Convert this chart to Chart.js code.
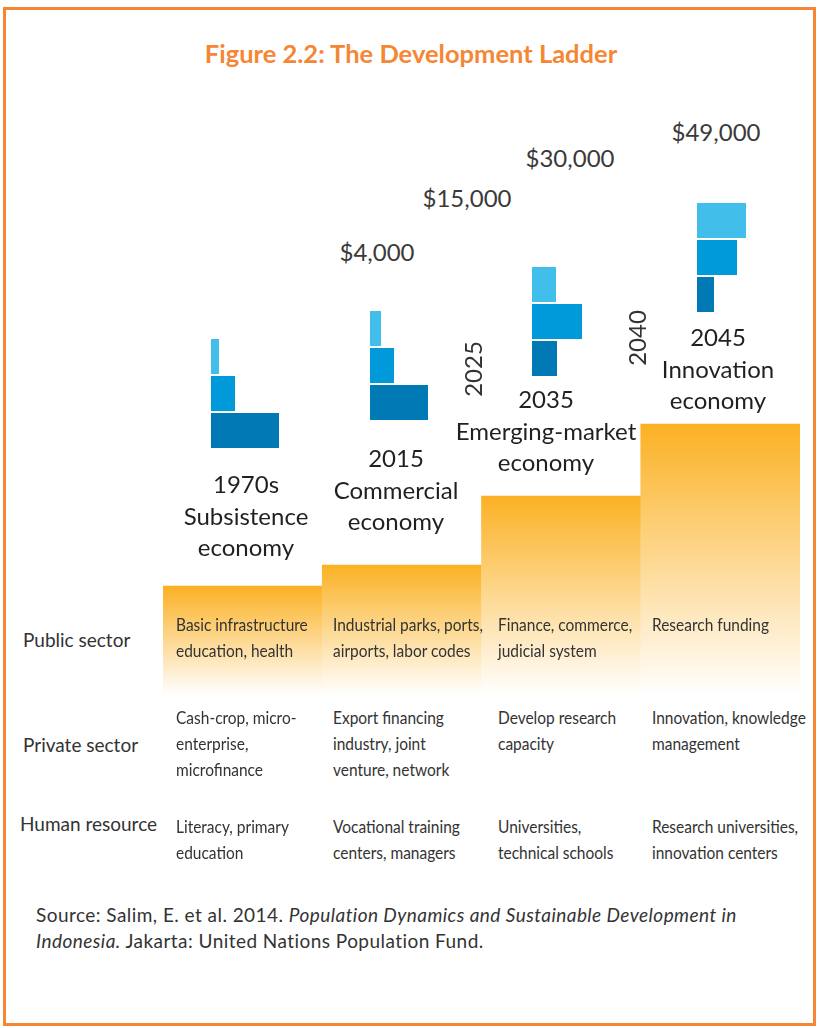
<!DOCTYPE html>
<html lang="en">
<head>
<meta charset="UTF-8">
<title>The Development Ladder</title>
<script src="https://cdn.jsdelivr.net/npm/chart.js"></script>
<style>
    body { margin: 0; background: #fff; font-family: Lato, "Open Sans", sans-serif; color: #231f20; }
    #page { position: relative; width: 819px; height: 1028px; overflow: hidden; }
    #frame { position: absolute; left: 3px; top: 7px; width: 807px; height: 1013px; border: 3px solid #f58634; }
    #title { position: absolute; left: 0; width: 822px; top: 37px; text-align: center; font-weight: bold;
             font-size: 25.5px; line-height: 32px; color: #f58634; }
    canvas { position: absolute; }
    .lbl { position: absolute; white-space: nowrap; }
    .stage { font-size: 24px; line-height: 31.5px; text-align: center; transform: translateX(-50%); }
    .income { font-size: 24px; line-height: 32px; color: #3a3a3a; transform: translateX(-50%); }
    .midyear { font-size: 24px; line-height: 24px; color: #333; transform: translate(-50%, -50%) rotate(-90deg); }
    .row { font-size: 19px; line-height: 26px; color: #333; }
    .cell { font-size: 18px; line-height: 26px; color: #333; transform: scaleX(0.86); transform-origin: left top; }
    #source { position: absolute; left: 36px; top: 902px; font-size: 19px; letter-spacing: 0.45px; line-height: 26px; color: #333; }
</style>
</head>
<body>
<div id="page">
    <div id="frame"></div>
    <div id="title">Figure 2.2: The Development Ladder</div>
    <canvas id="ladder" width="637" height="300" style="left:163px; top:400px;"></canvas>
    <div id="source">Source: Salim, E. et al. 2014. <i>Population Dynamics and Sustainable Development in<br>Indonesia.</i> Jakarta: United Nations Population Fund.</div>
</div>

<script>
    // data
    const stages = ['1970s', '2015', '2035', '2045'];
    const stageNames = [['Subsistence', 'economy'], ['Commercial', 'economy'], ['Emerging-market', 'economy'], ['Innovation', 'economy']];
    const incomes = ['$4,000', '$15,000', '$30,000', '$49,000'];
    const midYears = ['2025', '2040'];
    const stepHeights = [114, 135, 204, 276];
    const barTop = [8, 11, 24, 49];
    const barMiddle = [24, 24, 50, 40];
    const barBottom = [68, 58, 25, 17];
    const rowNames = ['Public sector', 'Private sector', 'Human resource'];
    const publicSector = [['Basic infrastructure', 'education, health'], ['Industrial parks, ports,', 'airports, labor codes'],
                          ['Finance, commerce,', 'judicial system'], ['Research funding']];
    const privateSector = [['Cash-crop, micro-', 'enterprise,', 'microfinance'], ['Export financing', 'industry, joint', 'venture, network'],
                           ['Develop research', 'capacity'], ['Innovation, knowledge', 'management']];
    const humanResource = [['Literacy, primary', 'education'], ['Vocational training', 'centers, managers'],
                           ['Universities,', 'technical schools'], ['Research universities,', 'innovation centers']];

    // layout
    const miniPos = [[211, 338], [370, 310], [532, 266], [697, 202]];
    const stagePos = [[246, 468], [396, 442], [546, 383], [718, 321]];
    const incomePos = [[377, 236], [467, 182], [570, 142], [716, 116]];
    const midYearPos = [[473, 369], [637, 338]];
    const rowPos = [[23, 627], [23, 732], [20, 811]];
    const colX = [176, 333, 498, 652];
    const rowTop = [611, 704, 813];
    const blues = ['#41bfea', '#0099da', '#0079b5'];

    const page = document.getElementById('page');

    function addLabel(cls, x, y, html) {
        let d = document.createElement('div');
        d.className = 'lbl ' + cls;
        d.style.left = x + 'px';
        d.style.top = y + 'px';
        d.innerHTML = html;
        page.appendChild(d);
        return d;
    }

    // ladder steps
    new Chart(document.getElementById('ladder'), {
        type: 'bar',
        data: {
            labels: stages,
            datasets: [{
                data: stepHeights,
                backgroundColor: (context) => {
                    const chart = context.chart;
                    const area = chart.chartArea;
                    if (!area || !chart.scales.y) return '#fbb123';
                    const top = chart.scales.y.getPixelForValue(stepHeights[context.dataIndex]);
                    const g = chart.ctx.createLinearGradient(0, top, 0, area.bottom - 5);
                    g.addColorStop(0, '#fbb123');
                    g.addColorStop(1, '#ffffff');
                    return g;
                },
                borderWidth: 0,
                barPercentage: 1,
                categoryPercentage: 1
            }]
        },
        options: {
            responsive: false,
            animation: false,
            layout: { padding: 0 },
            plugins: { legend: { display: false }, tooltip: { enabled: false } },
            scales: {
                x: { display: false },
                y: { display: false, min: 0, max: 300 }
            }
        }
    });

    // small blue bar groups
    stages.forEach((s, i) => {
        let c = document.createElement('canvas');
        c.width = 100;
        c.height = 111;
        c.style.left = miniPos[i][0] + 'px';
        c.style.top = miniPos[i][1] + 'px';
        page.appendChild(c);
        new Chart(c, {
            type: 'bar',
            data: {
                labels: ['top', 'middle', 'bottom'],
                datasets: [{
                    data: [barTop[i], barMiddle[i], barBottom[i]],
                    backgroundColor: blues,
                    borderWidth: 0,
                    barPercentage: 35 / 37,
                    categoryPercentage: 1
                }]
            },
            options: {
                indexAxis: 'y',
                responsive: false,
                animation: false,
                layout: { padding: 0 },
                plugins: { legend: { display: false }, tooltip: { enabled: false } },
                scales: {
                    x: { display: false, min: 0, max: 100 },
                    y: { display: false }
                }
            }
        });
    });

    // texts
    stages.forEach((s, i) => {
        addLabel('stage', stagePos[i][0], stagePos[i][1], [s].concat(stageNames[i]).join('<br>'));
        addLabel('income', incomePos[i][0], incomePos[i][1], incomes[i]);
    });
    midYears.forEach((y, i) => addLabel('midyear', midYearPos[i][0], midYearPos[i][1], y));
    rowNames.forEach((r, i) => addLabel('row', rowPos[i][0], rowPos[i][1], r));
    [publicSector, privateSector, humanResource].forEach((row, r) => {
        row.forEach((lines, c) => addLabel('cell', colX[c], rowTop[r], lines.join('<br>')));
    });
</script>
</body>
</html>
